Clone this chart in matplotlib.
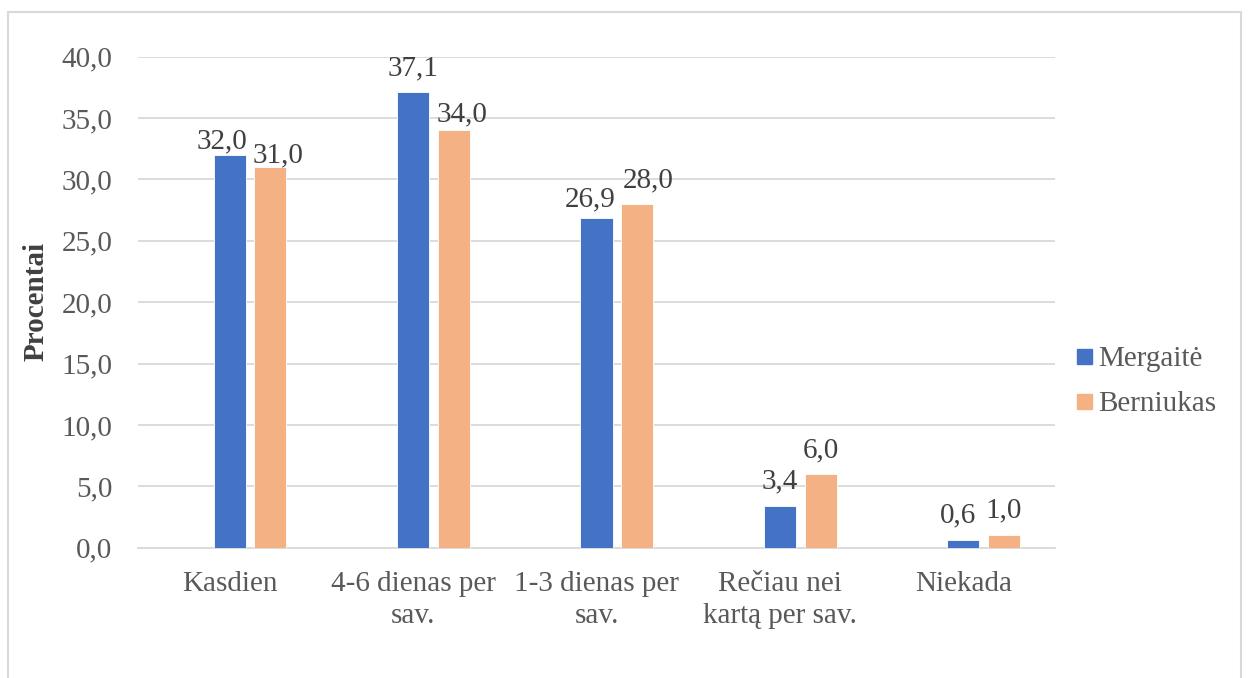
import matplotlib
matplotlib.use("Agg")
import matplotlib.pyplot as plt
from matplotlib.lines import Line2D
from matplotlib.patches import Rectangle

plt.rcParams['font.family'] = ['Liberation Serif', 'DejaVu Serif']

categories = ["Kasdien", "4-6 dienas per\nsav.", "1-3 dienas per\nsav.",
              "Rečiau nei\nkartą per sav.", "Niekada"]
mergaite = [32.0, 37.1, 26.9, 3.4, 0.6]
berniukas = [31.0, 34.0, 28.0, 6.0, 1.0]
series_names = ["Mergaitė", "Berniukas"]
yticks = [0, 5, 10, 15, 20, 25, 30, 35, 40]

BLUE = "#4472C4"
ORANGE = "#F4B183"
TICK_GREY = "#595959"
LABEL_GREY = "#404040"
GRID_GREY = "#D9D9D9"
FS = 21

W, H = 1248, 678
fig = plt.figure(figsize=(W / 100, H / 100), dpi=100)
ax_left, ax_right, ax_top, ax_bottom = 138, 1055, 56.7, 547.7
ax = fig.add_axes([ax_left / W, 1 - ax_bottom / H,
                   (ax_right - ax_left) / W, (ax_bottom - ax_top) / H])

# outer chart frame (runs past the bottom edge)
fig.patches.append(Rectangle((8 / W, -0.1), (1241 - 8) / W, 1.1 - 12 / H,
                             transform=fig.transFigure, fill=False,
                             edgecolor=GRID_GREY, linewidth=1.5, clip_on=False))

x = list(range(len(categories)))
bar_w = 0.1745
shift = 0.222
xb = [i for i in x]
xo = [i + shift for i in x]
bars_b = ax.bar(xb, mergaite, width=bar_w, color=BLUE, edgecolor="white",
                linewidth=0.6, zorder=3)
bars_o = ax.bar(xo, berniukas, width=bar_w, color=ORANGE, edgecolor="white",
                linewidth=0.6, zorder=3)

# value labels: per-label pixel nudges (dx, dy above bar top)
nudge_b = [(-8, 7), (0, 17), (-6, 11), (0, 18), (-5, 18)]
nudge_o = [(8, 5), (8, 9), (11, 17), (0, 17), (0, 18)]
for bars, vals, nudges in ((bars_b, mergaite, nudge_b), (bars_o, berniukas, nudge_o)):
    for bar, v, (dx, dy) in zip(bars, vals, nudges):
        ax.annotate(f"{v:.1f}".replace(".", ","),
                    xy=(bar.get_x() + bar.get_width() / 2, v),
                    xytext=(dx, dy), textcoords="offset pixels",
                    ha="center", va="baseline", fontsize=FS, color=LABEL_GREY,
                    zorder=4)

ax.set_xlim(-0.5, len(categories) - 0.5)
ax.set_ylim(0, 40)
ax.set_yticks(yticks)
ax.set_yticklabels([f"{t:.1f}".replace(".", ",") for t in yticks])
ax.set_xticks(x)
ax.set_xticklabels(categories, linespacing=1.27)
ax.tick_params(axis="y", length=0, pad=18.5, labelsize=FS, labelcolor=TICK_GREY)
ax.tick_params(axis="x", length=0, pad=17, labelsize=FS, labelcolor=TICK_GREY)
ax.grid(axis="y", color=GRID_GREY, linewidth=1.3, zorder=0)
ax.set_axisbelow(True)
for s in ("top", "right", "left"):
    ax.spines[s].set_visible(False)
ax.spines["bottom"].set_color(GRID_GREY)
ax.spines["bottom"].set_linewidth(1.3)

fig.text(36.5 / W, 1 - 302 / H, "Procentai", rotation=90, ha="center",
         va="center", fontsize=FS, fontweight="bold", color=LABEL_GREY)

handles = [Line2D([], [], marker="s", linestyle="none", markersize=10.8,
                  markerfacecolor=c, markeredgecolor=c) for c in (BLUE, ORANGE)]
fig.legend(handles, series_names, loc="center left",
           bbox_to_anchor=(1075 / W, 1 - 381.5 / H), frameon=False,
           fontsize=FS, labelcolor=TICK_GREY, handlelength=0.6,
           handletextpad=0.19, labelspacing=0.62, borderpad=0,
           borderaxespad=0)

fig.savefig("out.png", dpi=100)
